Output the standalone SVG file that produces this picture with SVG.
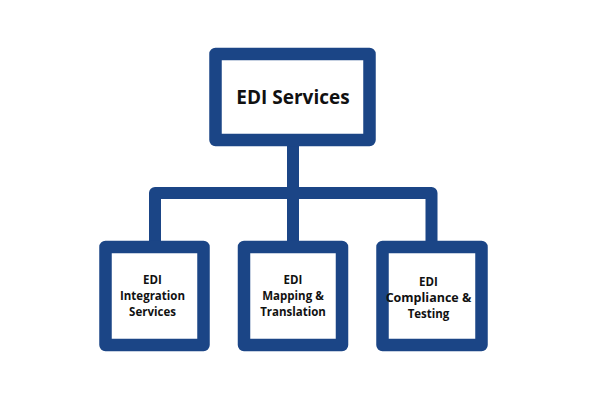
<svg xmlns="http://www.w3.org/2000/svg" width="600" height="400" viewBox="0 0 600 400">
<style>
.box{fill:#fff;stroke:#1b4586;stroke-width:12.5;stroke-linejoin:round}
.con{fill:none;stroke:#1b4586;stroke-width:12;stroke-linejoin:round}
.t1{font-family:"Open Sans","Noto Sans",sans-serif;font-weight:700;font-size:19px;fill:#111;text-anchor:middle}
.t2{font-family:"Open Sans","Noto Sans",sans-serif;font-weight:700;font-size:11.5px;fill:#111;text-anchor:middle}
</style>
<rect width="600" height="400" fill="#fff"/>
<g id="connectors">
<path class="con" d="M155,247 V193 H431.5 V247"/>
<path class="con" d="M293,140 V247"/>
</g>
<g id="root">
<rect class="box" x="215.5" y="54" width="154" height="86"/>
<text class="t1" x="293" y="103.5">EDI Services</text>
</g>
<g id="integration">
<rect class="box" x="105.5" y="247" width="98" height="98"/>
<text class="t2" x="152.5"><tspan x="152.5" y="284">EDI</tspan><tspan x="152.5" y="299.5">Integration</tspan><tspan x="152.5" y="315.5">Services</tspan></text>
</g>
<g id="mapping">
<rect class="box" x="244" y="247" width="98" height="98"/>
<text class="t2" x="293"><tspan x="293" y="284">EDI</tspan><tspan x="293" y="299.5">Mapping &amp;</tspan><tspan x="293" y="315.5">Translation</tspan></text>
</g>
<g id="compliance">
<rect class="box" x="382.5" y="247" width="99" height="98"/>
<text class="t2" x="428.5"><tspan x="428.5" y="285.5">EDI</tspan><tspan x="428.5" y="301.5" style="font-size:12.5px">Compliance &amp;</tspan><tspan x="428.5" y="318">Testing</tspan></text>
</g>
</svg>
